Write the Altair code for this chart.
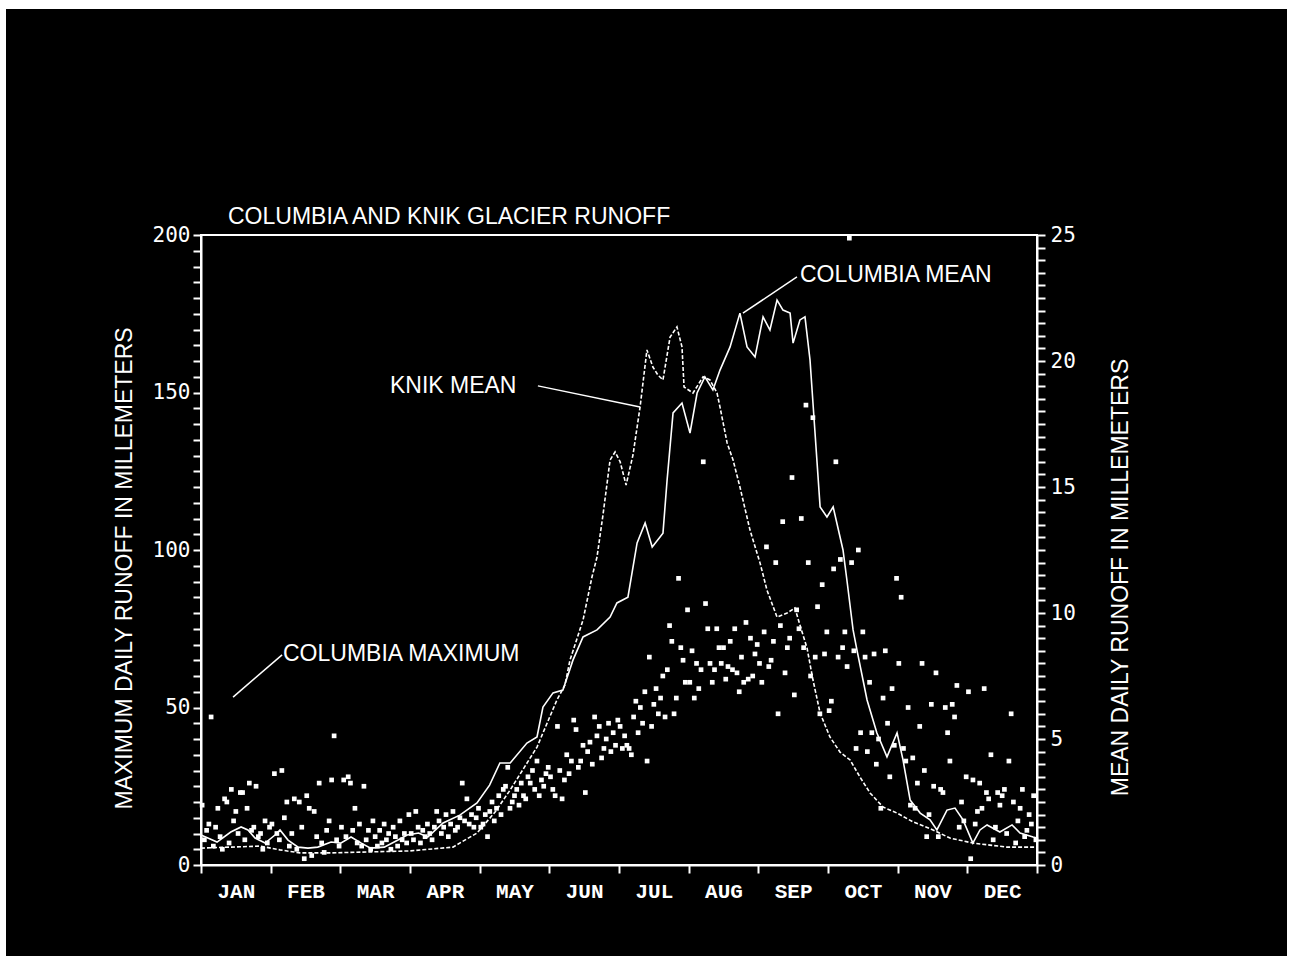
import altair as alt
import pandas as pd

# Daily maximum runoff of Columbia Glacier (mm), one list per month
max_jan = [19, 8, 11, 13, 47, 6, 12, 18, 9, 5, 21, 20, 7, 24, 14, 17, 10, 23, 23, 8, 18, 26, 11, 12, 25, 9, 10, 5, 14, 7, 12]
max_feb = [13, 29, 10, 8, 30, 15, 20, 6, 10, 21, 5, 20, 12, 2, 22, 18, 3, 17, 9, 26, 7, 4, 11, 14, 27, 41, 8, 6]
max_mar = [12, 27, 9, 28, 26, 11, 18, 7, 13, 6, 25, 8, 11, 5, 14, 9, 6, 11, 7, 13, 8, 10, 5, 12, 9, 6, 14, 8, 10, 7, 16]
max_apr = [10, 8, 17, 12, 7, 11, 9, 13, 10, 8, 12, 17, 14, 10, 12, 16, 9, 13, 17, 11, 12, 15, 26, 14, 21, 13, 16, 12, 15, 18]
max_may = [12, 13, 16, 9, 17, 20, 14, 18, 22, 16, 24, 25, 31, 18, 20, 22, 24, 19, 26, 22, 21, 28, 26, 30, 24, 33, 22, 27, 25, 29, 31]
max_jun = [28, 24, 22, 44, 30, 21, 27, 35, 29, 33, 46, 43, 31, 33, 38, 23, 36, 39, 32, 47, 41, 44, 34, 37, 40, 45, 36, 42, 38, 46]
max_jul = [44, 37, 41, 38, 37, 35, 47, 52, 42, 50, 45, 55, 33, 66, 44, 51, 56, 48, 53, 60, 47, 62, 76, 71, 48, 53, 91, 69, 65, 58, 81]
max_aug = [58, 68, 53, 64, 56, 62, 128, 83, 75, 64, 58, 62, 75, 69, 64, 69, 59, 63, 71, 62, 75, 61, 55, 66, 58, 77, 59, 72, 60, 67, 70]
max_sep = [64, 58, 74, 101, 63, 65, 71, 96, 48, 76, 109, 61, 69, 72, 123, 54, 81, 75, 110, 69, 146, 96, 60, 142, 66, 82, 48, 89, 67, 74]
max_oct = [49, 52, 94, 128, 66, 97, 69, 74, 63, 199, 96, 68, 37, 100, 42, 74, 66, 36, 58, 42, 67, 32, 40, 18, 53, 68, 45, 28, 56, 38, 91]
max_nov = [64, 85, 37, 33, 50, 19, 34, 18, 26, 44, 64, 30, 9, 16, 51, 25, 61, 9, 24, 23, 50, 42, 33, 51, 47, 57, 12, 20, 14, 28]
max_dec = [55, 2, 27, 13, 17, 26, 18, 56, 23, 21, 35, 8, 12, 23, 19, 22, 24, 10, 33, 48, 20, 7, 14, 18, 24, 9, 11, 16, 13, 22, 8]

months = ["JAN", "FEB", "MAR", "APR", "MAY", "JUN", "JUL", "AUG", "SEP", "OCT", "NOV", "DEC"]

# Mean daily runoff (mm), Columbia Glacier
columbia_day = [0, 3, 7, 13, 17.5, 20.5, 23.6, 28, 32.3, 34.5, 38, 42.4, 46.7, 51, 56.8, 61, 65.5, 70, 74, 80,
                86, 90, 95, 99, 105.7, 113, 120.5, 126, 130.5, 135, 142.3, 146.7, 149.3, 153.7, 158, 162.4, 166.8,
                172.9, 178.6, 181.6, 186.4, 190.4, 193.9, 197, 201.7, 203.5, 206.1, 210, 213.5, 216.6, 220, 223.5,
                226.6, 231, 235.3, 238.4, 241.9, 245.4, 248.4, 251.5, 254.1, 257.2, 258.5, 261.5, 263.7, 265.9, 268,
                270.3, 273.3, 276, 280.3, 282, 284.7, 286.4, 290.8, 295.1, 299.5, 303.9, 306.5, 309.6, 314, 318.3,
                321.3, 325.7, 329.2, 332.7, 337, 340.1, 343.2, 348.8, 354.1, 357.6, 363.3, 365]
columbia_mean = [1.19, 1.07, 0.91, 1.31, 1.51, 1.39, 1.07, 0.87, 1.19, 1.39, 0.99, 0.71, 0.67, 0.71, 0.91, 0.87,
                 1.11, 0.87, 0.67, 0.71, 0.99, 1.19, 1.27, 1.11, 1.67, 1.98, 2.46, 3.17, 4.05, 4.05, 4.84, 5.08,
                 6.27, 6.83, 6.94, 8.13, 9.05, 9.33, 9.84, 10.40, 10.63, 12.78, 13.57, 12.62, 13.17, 15.28, 17.94,
                 18.33, 17.14, 18.73, 19.37, 18.85, 19.64, 20.56, 21.90, 20.56, 20.16, 21.75, 21.23, 22.42, 22.02,
                 21.90, 20.71, 21.63, 21.75, 20.04, 17.26, 14.21, 13.81, 14.21, 12.5, 11.31, 9.33, 8.53, 6.55, 5.24,
                 4.29, 5.24, 4.17, 2.58, 2.06, 1.79, 1.39, 2.18, 2.26, 1.79, 0.87, 1.39, 1.59, 1.31, 1.59, 1.27,
                 1.11, 1.07]

# Mean daily runoff (mm), Knik Glacier
knik_day = [0, 12.7, 25.8, 34.5, 43.2, 56.3, 73.8, 91.3, 110, 120.5, 128.4, 135, 146.7, 155.4, 158.9, 161.1,
            166.8, 170.7, 172.9, 175.5, 178.6, 180.8, 183, 185.6, 188.6, 191.7, 194.7, 197.3, 199.5, 201.7, 204.8,
            207.8, 210, 210.9, 214.8, 219.2, 222.2, 225.3, 226.6, 229.7, 232.3, 235.3, 239.7, 244.1, 247.1, 251.5,
            255.9, 259.3, 261.5, 264.6, 267.2, 270.3, 274.6, 279, 283.4, 287.7, 292.1, 297.8, 303.9, 310.9, 319.6,
            327, 337, 344.5, 351.9, 365]
knik_mean = [0.67, 0.71, 0.75, 0.6, 0.48, 0.48, 0.52, 0.56, 0.71, 1.27, 2.1, 2.98, 4.68, 6.55, 7.14, 8.13, 9.72,
             11.43, 12.22, 13.89, 16.07, 16.39, 16.0, 15.08, 16.27, 18.17, 20.44, 19.76, 19.44, 19.25, 20.95, 21.35,
             20.56, 18.97, 18.73, 19.37, 19.25, 18.73, 18.17, 16.75, 16.07, 15.0, 13.29, 11.98, 10.91, 9.84, 10.0,
             10.2, 9.52, 8.61, 7.34, 6.03, 5.08, 4.48, 4.17, 3.49, 2.86, 2.30, 2.06, 1.71, 1.39, 1.07, 0.87, 0.79,
             0.71, 0.71]

# Curve labels with their leader lines (day of year, maximum-runoff units)
label_text = ["COLUMBIA MAXIMUM", "KNIK MEAN", "COLUMBIA MEAN"]
label_day = [35.8, 82.5, 261.5]
label_val = [67.0, 152.1, 187.3]
leader_day = [14.0, 147.1, 236.6]
leader_val = [53.3, 152.1, 175.2]
leader_day2 = [35.4, 191.7, 260.2]
leader_val2 = [66.7, 145.4, 186.7]

TITLE = "COLUMBIA AND KNIK GLACIER RUNOFF"

YEAR = 365
SPAN = YEAR / 12
W, H = 836, 630

monthly = [max_jan, max_feb, max_mar, max_apr, max_may, max_jun,
           max_jul, max_aug, max_sep, max_oct, max_nov, max_dec]
rows = []
for m, vals in enumerate(monthly):
    n = len(vals)
    for i, v in enumerate(vals):
        rows.append({"day": SPAN * (m + (i + 0.5) / n), "runoff": v})
max_df = pd.DataFrame(rows)
col_df = pd.DataFrame({"day": columbia_day, "mean": columbia_mean})
knik_df = pd.DataFrame({"day": knik_day, "mean": knik_mean})
label_df = pd.DataFrame({"day": label_day, "runoff": label_val, "label": label_text})
leader_df = pd.DataFrame({"day": leader_day, "runoff": leader_val, "day2": leader_day2, "runoff2": leader_val2})

WHITE = "white"
SANS = "Liberation Sans"

x_scale = alt.Scale(domain=[0, YEAR], nice=False, zero=False)
left_scale = alt.Scale(domain=[0, 200], nice=False)
right_scale = alt.Scale(domain=[0, 25], nice=False)

month_expr = "[" + ",".join("'" + m + "'" for m in months) + ",''][round(datum.value*12/365)]"
x_axis = alt.Axis(
    orient="bottom", values=[SPAN * k for k in range(13)], labelExpr=month_expr, title=None,
    labelOffset=W / 24, labelFlush=False, labelOverlap=False, labelPadding=7,
    labelFont="Liberation Mono", labelFontWeight="bold", labelFontSize=21, labelColor=WHITE,
    domainColor=WHITE, domainWidth=2, tickColor=WHITE, tickWidth=2, tickSize=8, grid=False,
)
left_axis = alt.Axis(
    orient="left", values=list(range(0, 201, 5)),
    labelExpr="datum.value % 50 == 0 ? format(datum.value, 'd') : ''",
    labelFont="DejaVu Sans Mono", labelFontSize=21, labelColor=WHITE, labelPadding=3,
    labelOverlap=False, labelFlush=False,
    domainColor=WHITE, domainWidth=2, tickColor=WHITE, tickWidth=2, tickSize=8, grid=False,
    title="MAXIMUM DAILY RUNOFF IN MILLEMETERS", titleFont=SANS, titleFontSize=23,
    titleFontWeight="normal", titleColor=WHITE, titleAngle=270, titleAlign="center",
    titleBaseline="middle", titleX=-77, titleY=333,
)
right_axis = alt.Axis(
    orient="right", values=[k * 0.5 for k in range(51)],
    labelExpr="datum.value % 5 == 0 ? format(datum.value, 'd') : ''",
    labelFont="DejaVu Sans Mono", labelFontSize=21, labelColor=WHITE, labelPadding=5,
    labelOverlap=False, labelFlush=False,
    domainColor=WHITE, domainWidth=2, tickColor=WHITE, tickWidth=2, tickSize=8, grid=False,
    title="MEAN DAILY RUNOFF IN MILLEMETERS", titleFont=SANS, titleFontSize=23,
    titleFontWeight="normal", titleColor=WHITE, titleAngle=270, titleAlign="center",
    titleBaseline="middle", titleX=83, titleY=342,
)

X = alt.X("day:Q", scale=x_scale, axis=x_axis)
Y_LEFT = alt.Y("runoff:Q", scale=left_scale, axis=left_axis)
Y_RIGHT = alt.Y("mean:Q", scale=right_scale, axis=right_axis)

# white page margin around the black panel
edge = alt.Chart(pd.DataFrame({"edge": [0]})).mark_rect(
    fillOpacity=0, stroke=WHITE, strokeWidth=18
).encode(x=alt.value(-204), x2=alt.value(1095), y=alt.value(-235), y2=alt.value(730))

# chart heading, left-aligned just above the frame
heading = alt.Chart(pd.DataFrame({"text": [TITLE]})).mark_text(
    align="left", baseline="alphabetic", font=SANS, fontSize=23, color=WHITE
).encode(x=alt.value(27), y=alt.value(-11), text="text:N")

points = alt.Chart(max_df).mark_point(
    shape="square", filled=True, size=22, color=WHITE, opacity=1, strokeWidth=0
).encode(x=X, y=Y_LEFT)

leaders = alt.Chart(leader_df).mark_rule(color=WHITE, strokeWidth=1.5).encode(
    x=X, x2="day2:Q", y=Y_LEFT, y2="runoff2:Q",
)

labels = alt.Chart(label_df).mark_text(
    align="left", baseline="middle", font=SANS, fontSize=23, color=WHITE
).encode(x=X, y=Y_LEFT, text="label:N")

columbia = alt.Chart(col_df).mark_line(color=WHITE, strokeWidth=1.6).encode(x=X, y=Y_RIGHT)
knik = alt.Chart(knik_df).mark_line(color=WHITE, strokeWidth=1.6, strokeDash=[4, 2]).encode(x=X, y=Y_RIGHT)

left_group = alt.layer(edge, heading, points, leaders, labels)
right_group = alt.layer(columbia, knik)

chart = alt.layer(left_group, right_group).resolve_scale(y="independent").properties(
    width=W, height=H,
    background="black",
    padding={"left": 201, "top": 235, "right": 257, "bottom": 100},
    autosize=alt.AutoSizeParams(type="none"),
).configure_view(stroke=WHITE, strokeWidth=2)

chart.save("out.html", embed_options={"renderer": "svg", "actions": False})
